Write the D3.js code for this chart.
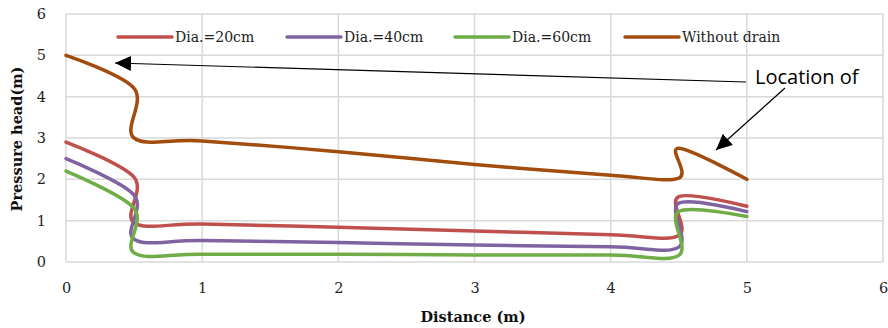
<!DOCTYPE html>
<html>
<head>
<meta charset="utf-8">
<script src="https://cdn.jsdelivr.net/npm/d3@7"></script>
<style>
  html, body { margin: 0; padding: 0; background: #fff; }
  svg { display: block; }
</style>
</head>
<body>
<svg id="chart" width="888" height="328"></svg>
<script>
// Distance along the section (m); the drains sit at 0.5 m and 4.5 m
const distance = [0, 0.5, 0.5, 1, 2, 3, 4, 4.5, 4.5, 5];

// Pressure head (m) for each case
const dia20 = [2.9, 2.05, 0.95, 0.92, 0.84, 0.75, 0.66, 0.64, 1.58, 1.35];
const dia40 = [2.5, 1.62, 0.55, 0.52, 0.47, 0.41, 0.37, 0.36, 1.42, 1.22];
const dia60 = [2.2, 1.3, 0.22, 0.19, 0.19, 0.17, 0.17, 0.16, 1.22, 1.1];
const withoutDrain = [5.0, 4.2, 3.0, 2.93, 2.67, 2.36, 2.1, 2.03, 2.75, 2.0];

const seriesNames = ["Dia.=20cm", "Dia.=40cm", "Dia.=60cm", "Without drain"];
const seriesColors = ["#C0504D", "#8064A2", "#70AD47", "#A24C0E"];
const seriesValues = [dia20, dia40, dia60, withoutDrain];

const xTicks = [0, 1, 2, 3, 4, 5, 6];
const yTicks = [0, 1, 2, 3, 4, 5, 6];

const serif = "'DejaVu Serif', 'Liberation Serif', serif";

const svg = d3.select("#chart");

const x = d3.scaleLinear().domain([0, 6]).range([66, 883]);
const y = d3.scaleLinear().domain([0, 6]).range([262, 14]);

// grid
const grid = svg.append("g");
grid.selectAll("line.v").data(xTicks).join("line")
  .attr("x1", d => x(d)).attr("x2", d => x(d))
  .attr("y1", y(0)).attr("y2", y(6))
  .attr("stroke", "#d9d9d9").attr("stroke-width", 1.5);
grid.selectAll("line.h").data(yTicks).join("line")
  .attr("x1", x(0)).attr("x2", x(6))
  .attr("y1", d => y(d)).attr("y2", d => y(d))
  .attr("stroke", "#d9d9d9").attr("stroke-width", 1.5);

// axes (labels only; lines come from the grid)
const xAxis = d3.axisBottom(x).tickValues(xTicks).tickSize(0).tickPadding(21).tickFormat(d3.format("d"));
const gx = svg.append("g").attr("transform", `translate(0,${y(0)})`).call(xAxis);
gx.select(".domain").remove();
gx.selectAll("text").attr("font-family", serif).attr("font-size", 14.5).attr("fill", "#222");

const yAxis = d3.axisLeft(y).tickValues(yTicks).tickSize(0).tickPadding(20).tickFormat(d3.format("d"));
const gy = svg.append("g").attr("transform", `translate(${x(0)},0)`).call(yAxis);
gy.select(".domain").remove();
gy.selectAll("text").attr("font-family", serif).attr("font-size", 14.5).attr("fill", "#222");

// axis titles
svg.append("text")
  .attr("x", 473).attr("y", 322)
  .attr("text-anchor", "middle")
  .attr("font-family", serif).attr("font-weight", "bold").attr("font-size", 14.5)
  .attr("fill", "#111")
  .text("Distance (m)");

svg.append("text")
  .attr("transform", `translate(22,${(y(0) + y(6)) / 2 + 1}) rotate(-90)`)
  .attr("text-anchor", "middle")
  .attr("font-family", serif).attr("font-weight", "bold").attr("font-size", 14.5)
  .attr("fill", "#111")
  .text("Pressure head(m)");

// series
const line = d3.line()
  .x(d => x(d[0]))
  .y(d => y(d[1]))
  .curve(d3.curveCardinal.tension(0));

seriesValues.forEach((vals, i) => {
  const pts = distance.map((d, j) => [d, vals[j]]);
  svg.append("path")
    .datum(pts)
    .attr("fill", "none")
    .attr("stroke", seriesColors[i])
    .attr("stroke-width", 3.5)
    .attr("stroke-linecap", "round")
    .attr("stroke-linejoin", "round")
    .attr("d", line);
});

// legend
const legendX = [118, 287, 455, 625];
const legend = svg.append("g");
seriesNames.forEach((name, i) => {
  const g = legend.append("g").attr("transform", `translate(${legendX[i]},37)`);
  g.append("line")
    .attr("x1", 0).attr("x2", 54).attr("y1", 0).attr("y2", 0)
    .attr("stroke", seriesColors[i]).attr("stroke-width", 3.5).attr("stroke-linecap", "round");
  g.append("text")
    .attr("x", 57).attr("y", 5)
    .attr("font-family", serif).attr("font-size", 14).attr("fill", "#222")
    .text(name);
});

// annotation arrows
const defs = svg.append("defs");
defs.append("marker")
  .attr("id", "arrowhead")
  .attr("viewBox", "0 0 10 10")
  .attr("refX", 10).attr("refY", 5)
  .attr("markerWidth", 16).attr("markerHeight", 15)
  .attr("markerUnits", "userSpaceOnUse")
  .attr("orient", "auto")
  .attr("preserveAspectRatio", "none")
  .append("path").attr("d", "M0,0 L10,5 L0,10 Z").attr("fill", "#000");

svg.append("line")
  .attr("x1", 746).attr("y1", 82).attr("x2", 115).attr("y2", 63)
  .attr("stroke", "#000").attr("stroke-width", 1.2)
  .attr("marker-end", "url(#arrowhead)");

svg.append("line")
  .attr("x1", 785).attr("y1", 88).attr("x2", 716).attr("y2", 150)
  .attr("stroke", "#000").attr("stroke-width", 1.2)
  .attr("marker-end", "url(#arrowhead)");

svg.append("text")
  .attr("x", 755).attr("y", 84)
  .attr("font-family", "'Open Sans', 'Liberation Sans', sans-serif")
  .attr("font-size", 20).attr("fill", "#000")
  .text("Location of");
</script>
</body>
</html>
